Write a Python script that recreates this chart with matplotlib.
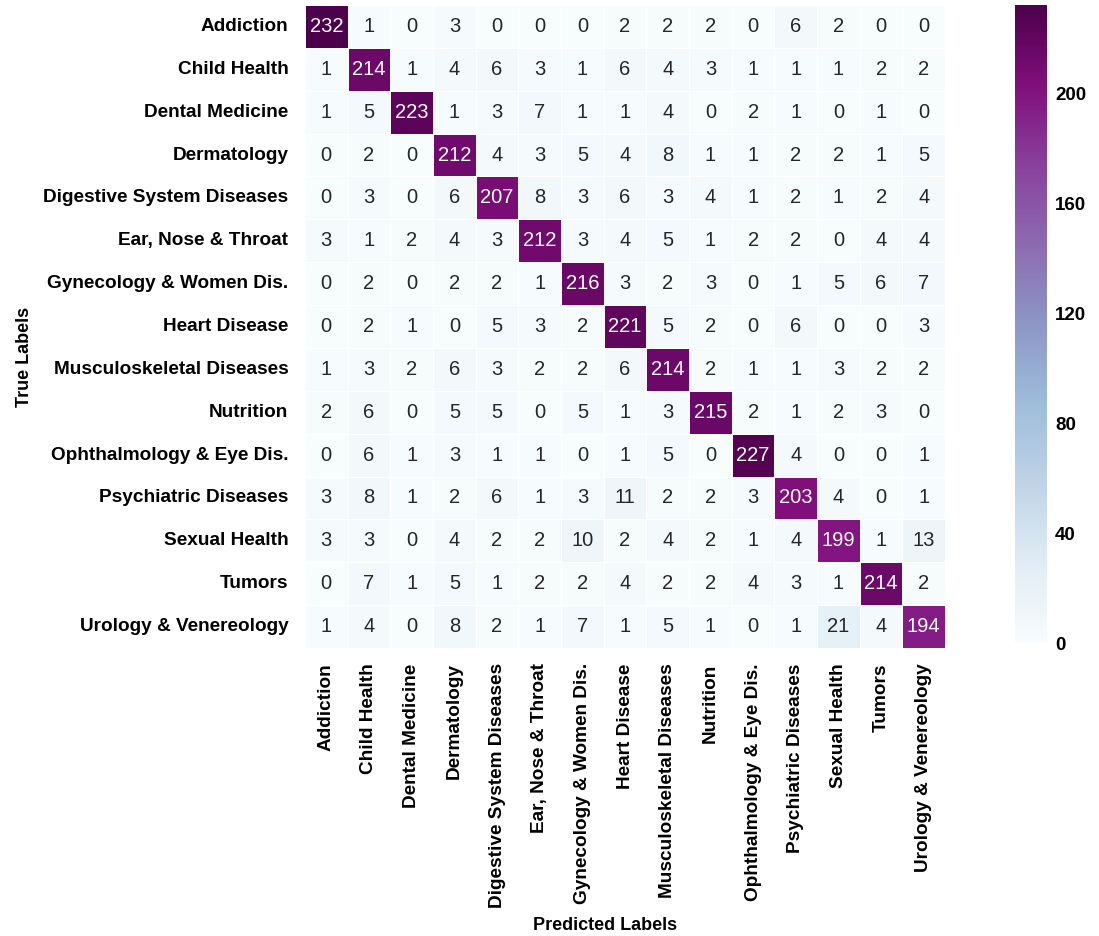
import numpy as np
import matplotlib
matplotlib.use("Agg")
import matplotlib.pyplot as plt
import seaborn as sns

labels = ["Addiction", "Child Health", "Dental Medicine", "Dermatology",
          "Digestive System Diseases", "Ear, Nose & Throat",
          "Gynecology & Women Dis.", "Heart Disease", "Musculoskeletal Diseases",
          "Nutrition", "Ophthalmology & Eye Dis.", "Psychiatric Diseases",
          "Sexual Health", "Tumors", "Urology & Venereology"]

row_addiction = [232, 1, 0, 3, 0, 0, 0, 2, 2, 2, 0, 6, 2, 0, 0]
row_child = [1, 214, 1, 4, 6, 3, 1, 6, 4, 3, 1, 1, 1, 2, 2]
row_dental = [1, 5, 223, 1, 3, 7, 1, 1, 4, 0, 2, 1, 0, 1, 0]
row_derm = [0, 2, 0, 212, 4, 3, 5, 4, 8, 1, 1, 2, 2, 1, 5]
row_digest = [0, 3, 0, 6, 207, 8, 3, 6, 3, 4, 1, 2, 1, 2, 4]
row_ent = [3, 1, 2, 4, 3, 212, 3, 4, 5, 1, 2, 2, 0, 4, 4]
row_gyn = [0, 2, 0, 2, 2, 1, 216, 3, 2, 3, 0, 1, 5, 6, 7]
row_heart = [0, 2, 1, 0, 5, 3, 2, 221, 5, 2, 0, 6, 0, 0, 3]
row_musc = [1, 3, 2, 6, 3, 2, 2, 6, 214, 2, 1, 1, 3, 2, 2]
row_nutr = [2, 6, 0, 5, 5, 0, 5, 1, 3, 215, 2, 1, 2, 3, 0]
row_oph = [0, 6, 1, 3, 1, 1, 0, 1, 5, 0, 227, 4, 0, 0, 1]
row_psy = [3, 8, 1, 2, 6, 1, 3, 11, 2, 2, 3, 203, 4, 0, 1]
row_sex = [3, 3, 0, 4, 2, 2, 10, 2, 4, 2, 1, 4, 199, 1, 13]
row_tum = [0, 7, 1, 5, 1, 2, 2, 4, 2, 2, 4, 3, 1, 214, 2]
row_uro = [1, 4, 0, 8, 2, 1, 7, 1, 5, 1, 0, 1, 21, 4, 194]

cm = np.array([row_addiction, row_child, row_dental, row_derm, row_digest,
               row_ent, row_gyn, row_heart, row_musc, row_nutr, row_oph,
               row_psy, row_sex, row_tum, row_uro])

cbar_ticks = [0, 40, 80, 120, 160, 200]

plt.rcParams['font.family'] = ['Liberation Sans', 'DejaVu Sans']

fig = plt.figure(figsize=(10.99, 9.36), dpi=100)
ax = fig.add_axes([0.2775, 0.3077, 0.5825, 0.687])
cax = fig.add_axes([0.9236, 0.313, 0.029, 0.6816])

sns.heatmap(cm, ax=ax, cbar_ax=cax, cmap="BuPu", vmin=0, vmax=cm.max(),
            annot=True, fmt="d", annot_kws={"size": 14.5},
            linewidths=0.5, linecolor="white",
            xticklabels=labels, yticklabels=labels,
            cbar_kws={"ticks": cbar_ticks})

for t in ax.texts:
    rgba = matplotlib.colors.to_rgba(t.get_color())
    if sum(rgba[:3]) < 1.5:
        t.set_color("#262626")

ax.tick_params(axis='x', length=0, pad=11)
ax.tick_params(axis='y', length=0, pad=12)
for t in ax.get_xticklabels():
    t.set_rotation(90)
    t.set_fontsize(13.7)
    t.set_fontweight('bold')
for t in ax.get_yticklabels():
    t.set_rotation(0)
    t.set_fontsize(13.7)
    t.set_fontweight('bold')

ax.set_xlabel("Predicted Labels", fontsize=13, fontweight='bold')
ax.set_ylabel("True Labels", fontsize=13, fontweight='bold')
ax.xaxis.set_label_coords(0.469, -0.418)
ax.yaxis.set_label_coords(-0.425, 0.4526)

cax.tick_params(length=0, labelsize=13.5, pad=6)
for t in cax.get_yticklabels():
    t.set_fontweight('bold')
for sp in cax.spines.values():
    sp.set_visible(False)

fig.savefig("out.png", dpi=100)
